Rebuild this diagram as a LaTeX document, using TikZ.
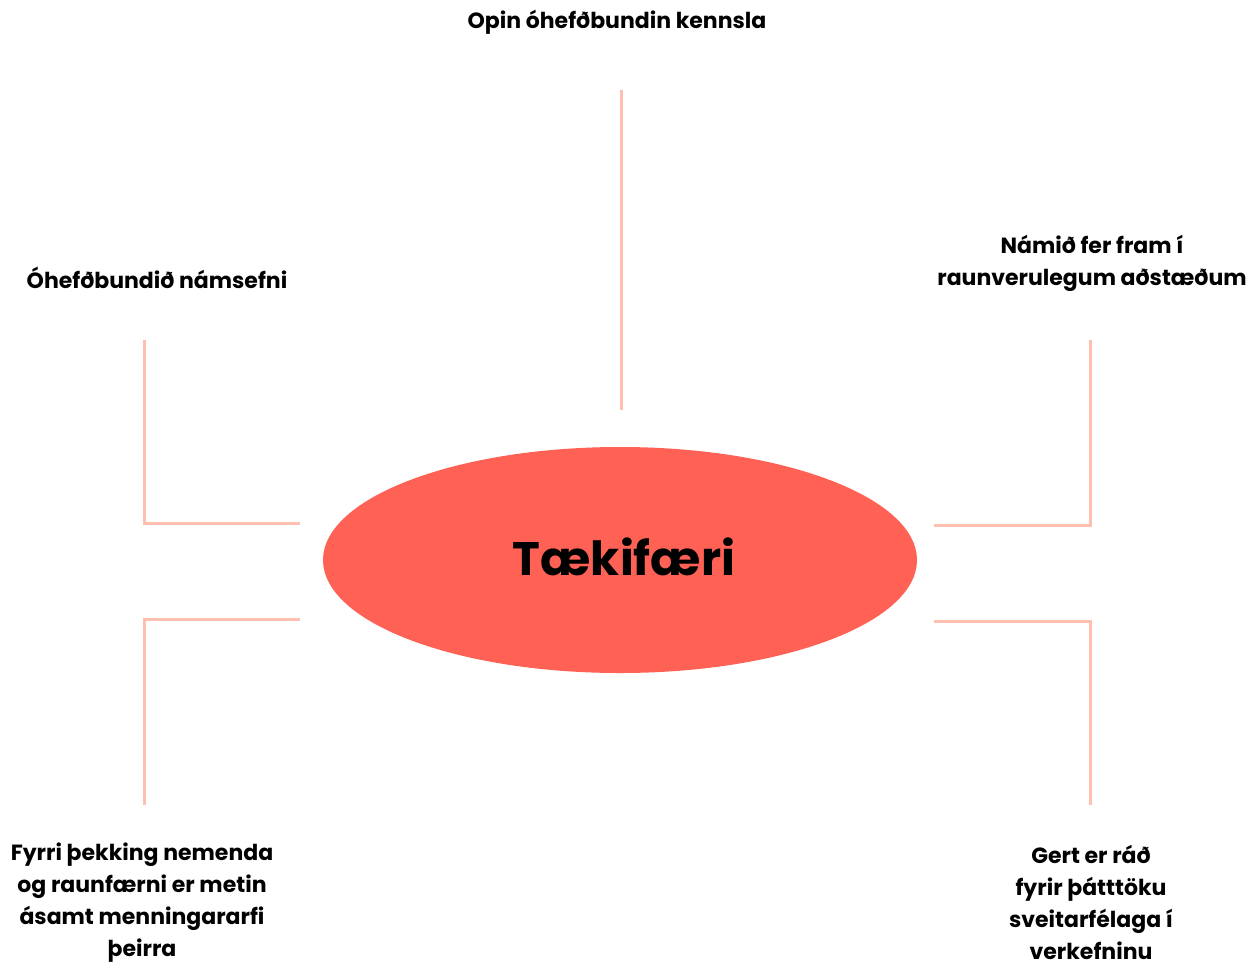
\documentclass[tikz,border=0pt]{standalone}
\usepackage{fontspec}
\setmainfont{Poppins}
\usetikzlibrary{shapes.geometric}
\definecolor{core}{HTML}{FF6155}
\definecolor{linkc}{HTML}{FFBFAF}
\tikzset{
  lbl/.style={align=center,font=\fontsize{22}{32}\selectfont\bfseries,text=black,inner sep=0pt},
  link/.style={draw=linkc,line width=3pt},
}
\begin{document}
\begin{tikzpicture}[x=1pt,y=-1pt]
\useasboundingbox (0,0) rectangle (1249,964);
\node[ellipse,fill=core,minimum width=594pt,minimum height=226pt,inner sep=0pt] (core) at (620,560) {};
\node[font=\fontsize{47}{56}\selectfont\bfseries] (title) at (624,557) {Tækifæri};
\node[lbl] (t1) at (617,22) {Opin óhefðbundin kennsla};
\node[lbl] (t2) at (157,278) {Óhefðbundið námsefni};
\node[lbl] (t3) at (1092,263) {Námið fer fram í\\raunverulegum aðstæðum};
\node[lbl] (t4) at (142,903) {Fyrri þekking nemenda\\og raunfærni er metin\\ásamt menningararfi\\þeirra};
\node[lbl] (t5) at (1091,902) {Gert er ráð\\fyrir þátttöku\\sveitarfélaga í\\verkefninu};
\coordinate (a1) at (621,90); \coordinate (a2) at (621,410);
\coordinate (b1) at (144,340); \coordinate (b2) at (300,523);
\coordinate (c1) at (144,805); \coordinate (c2) at (300,619);
\coordinate (d1) at (1090,340); \coordinate (d2) at (934,525);
\coordinate (e1) at (1090,805); \coordinate (e2) at (934,621);
\draw[link] (a1) -- (a2);
\draw[link] (b1) |- (b2);
\draw[link] (c1) |- (c2);
\draw[link] (d1) |- (d2);
\draw[link] (e1) |- (e2);
\end{tikzpicture}
\end{document}
